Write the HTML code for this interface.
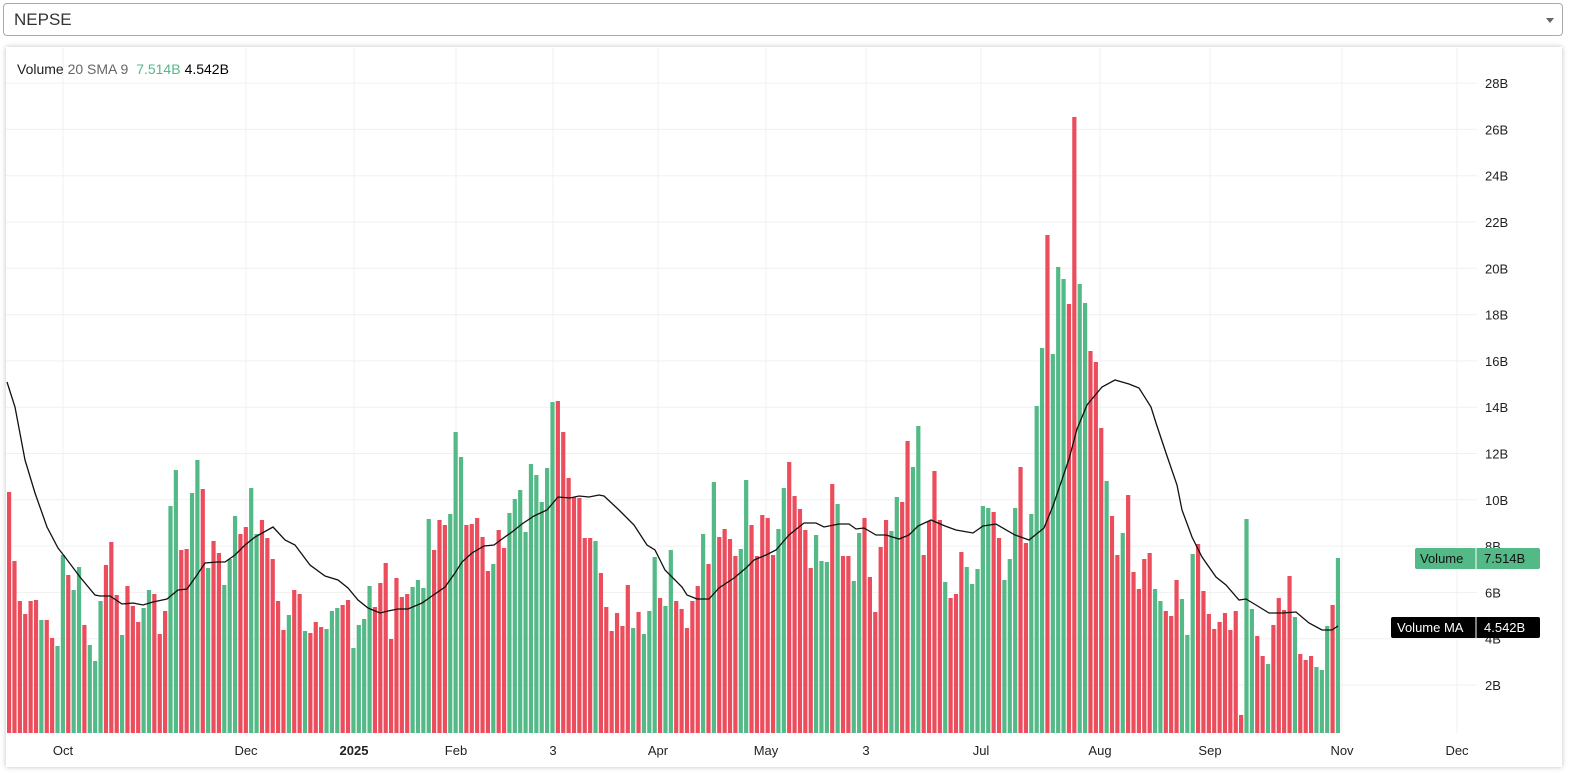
<!DOCTYPE html>
<html><head><meta charset="utf-8"><style>
body{margin:0;background:#fff;width:1570px;height:776px;overflow:hidden;font-family:"Liberation Sans",sans-serif;}
#dd{position:absolute;left:3px;top:3px;width:1560px;height:33px;border:1px solid #aaa;border-radius:4px;box-sizing:border-box;}
#dd span{position:absolute;left:10px;top:6px;font-size:17px;color:#333;}
#dd i{position:absolute;right:8px;top:14px;width:0;height:0;border-left:4px solid transparent;border-right:4px solid transparent;border-top:5px solid #666;}
#panel{position:absolute;left:6px;top:47px;width:1556px;height:720px;background:#fff;box-shadow:0 0 5px rgba(0,0,0,.25);}
svg{position:absolute;left:0;top:0}
</style></head><body>
<div id="dd"><span>NEPSE</span><i></i></div>
<div id="panel"></div>
<svg id="s" width="1570" height="776" font-family="Liberation Sans, sans-serif"></svg>
<script>
var tops=[492,561,601,614,601,600,620,620,638,646,555,575,590,567,625,645,661,601,565,542,595,635,586,606,622,608,590,594,634,611,506,470,550,549,493,460,489,568,541,553,585,
559,516,534,527,488,534,520,538,559,601,630,615,590,594,631,633,622,627,629,611,608,605,600,648,625,619,586,607,583,563,639,578,597,594,587,580,588,519,550,520,525,514,432,
457,525,524,518,537,571,564,530,548,513,499,490,532,464,475,502,468,402,401,432,478,497,498,538,538,541,573,607,631,613,626,585,628,612,634,611,557,598,606,550,601,609,
628,601,586,534,564,482,537,529,539,556,549,480,525,556,515,518,555,529,488,462,496,509,530,568,535,561,562,484,504,556,556,581,533,518,577,612,547,520,531,497,502,441,
467,426,555,521,471,520,582,598,594,552,567,584,569,506,508,512,538,580,559,508,467,543,514,406,348,235,354,267,279,304,117,284,303,351,362,428,481,516,555,533,495,572,
589,559,553,589,601,611,616,580,599,635,554,544,591,614,629,622,613,630,611,715,519,609,636,656,664,625,598,610,576,617,654,660,656,667,670,626,605,558];
var col="RRRRRRGRRGGRGGRGGGRRRGRRRGGRRRGGRRGGRGRRG"+"GGRRGGRRRRRGRRGRRRGGGRRGGGGRRRRRRRGGGGRRRGG"+"GRRRRRGRRGGGGGGGGGRRRRRRRGRRRRRRGRGGGRGGRR"+"RRRGRGRRRRGGRRRRRGGRRRRRGGGRGRRGGRRRRRGGRR"+"GGRRRRGRRRGGGGGRRGGGRRGGGRGGGRRGGRRRGRRGRR"+"RRRGGRRRGGGRRRRRRRRRGGRRGRRRRGRRRGGGRG";
var ma=[[7,382],[15,407],[25,460],[35,493],[47,527],[58,548],[65,557],[80,577],[95,595],[100,596],[110,596],[122,604],[133,603],[143,605],[153,602],[167,599],[178,590],[187,589],[197,575],[205,563],[217,562],[225,562],[235,555],[245,545],[255,537],[273,527],[285,540],[295,545],[310,565],[325,576],[338,580],[348,588],[358,600],[368,608],[380,613],[388,611],[398,609],[408,609],[422,603],[432,596],[445,587],[455,573],[462,562],[472,553],[484,546],[494,545],[502,539],[512,532],[522,524],[534,516],[547,510],[558,497],[570,498],[579,496],[589,497],[599,495],[604,496],[619,510],[634,525],[647,545],[655,550],[665,570],[682,587],[687,595],[697,599],[709,599],[719,588],[734,578],[746,568],[754,560],[766,555],[776,550],[789,535],[804,523],[816,523],[824,527],[839,524],[849,524],[856,529],[864,528],[876,535],[886,535],[899,539],[909,535],[918,526],[931,520],[945,526],[956,530],[973,533],[983,526],[996,524],[1015,535],[1029,540],[1044,528],[1053,506],[1069,459],[1077,429],[1087,405],[1102,387],[1115,380],[1129,384],[1139,388],[1151,407],[1156,423],[1166,453],[1177,485],[1182,510],[1192,537],[1202,557],[1216,577],[1226,585],[1239,600],[1246,599],[1256,605],[1269,613],[1282,613],[1296,612],[1309,623],[1322,630],[1332,630],[1338,626]];
var h='';
for(var v=2;v<=28;v+=2){var y=731.3-v*23.15;h+='<line x1="6" x2="1477" y1="'+y+'" y2="'+y+'" stroke="#f0f0f0"/>';h+='<text x="1485" y="'+(y+5)+'" font-size="13" fill="#222">'+v+'B</text>';}
var xl=[[63,'Oct'],[246,'Dec'],[354,'2025',1],[456,'Feb'],[553,'3'],[658,'Apr'],[766,'May'],[866,'3'],[981,'Jul'],[1100,'Aug'],[1210,'Sep'],[1342,'Nov'],[1457,'Dec']];
xl.forEach(function(t){h+='<line x1="'+t[0]+'" x2="'+t[0]+'" y1="48" y2="733" stroke="#f0f0f0"/>';h+='<text x="'+t[0]+'" y="755" font-size="13" text-anchor="middle" fill="#222"'+(t[2]?' font-weight="bold"':'')+'>'+t[1]+'</text>';});
for(var i=0;i<tops.length;i++){var x=7+i*5.38;h+='<rect x="'+x.toFixed(2)+'" y="'+tops[i]+'" width="4.2" height="'+(733-tops[i])+'" fill="'+(col[i]=='G'?'#53b987':'#eb4d5c')+'"/>';}
h+='<polyline fill="none" stroke="#111" stroke-width="1.3" points="'+ma.map(function(p){return p.join(',')}).join(' ')+'"/>';
h+='<text x="17" y="74" font-size="14"><tspan fill="#222">Volume</tspan><tspan fill="#666"> 20 SMA 9 </tspan><tspan fill="#53b987" dx="4">7.514B</tspan><tspan fill="#000" dx="4">4.542B</tspan></text>';
h+='<rect x="1415" y="548" width="125" height="21" rx="2" fill="#53b987"/><line x1="1476" x2="1476" y1="548" y2="569" stroke="#fff"/><text x="1420" y="563" font-size="13" fill="#111">Volume</text><text x="1484" y="563" font-size="13" fill="#111">7.514B</text>';
h+='<rect x="1391" y="617" width="149" height="21" rx="2" fill="#000"/><line x1="1476" x2="1476" y1="617" y2="638" stroke="#fff"/><text x="1397" y="632" font-size="13" fill="#fff">Volume MA</text><text x="1484" y="632" font-size="13" fill="#fff">4.542B</text>';
document.getElementById('s').innerHTML=h;
</script>
</body></html>
